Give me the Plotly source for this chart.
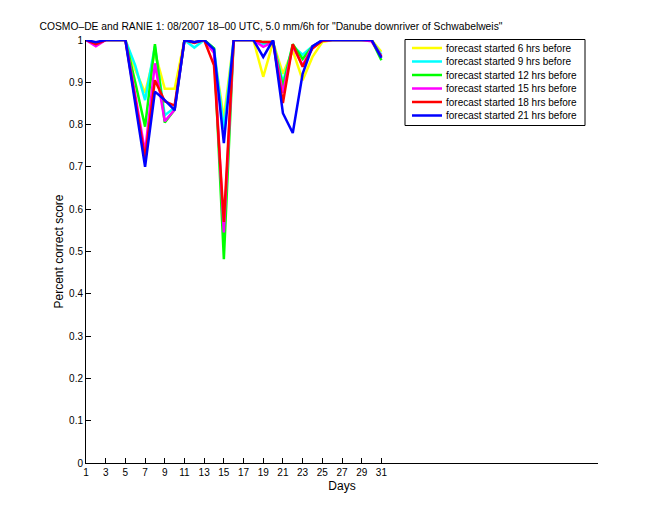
import plotly.graph_objects as go

days = list(range(1, 32))

series_names = [
    "forecast started 6 hrs before",
    "forecast started 9 hrs before",
    "forecast started 12 hrs before",
    "forecast started 15 hrs before",
    "forecast started 18 hrs before",
    "forecast started 21 hrs before",
]
series_colors = ["#FFFF00", "#00FFFF", "#00FF00", "#FF00FF", "#FF0000", "#0000FF"]

yellow_6h = [1, 0.99, 1, 1, 1, 0.93, 0.875, 0.97, 0.885, 0.885, 1, 0.995, 1, 0.97, 0.815, 1,
             1, 1, 0.913, 0.995, 0.92, 0.975, 0.905, 0.96, 0.995, 1, 1, 1, 1, 1, 0.972]
cyan_9h = [1, 0.99, 1, 1, 1, 0.94, 0.858, 0.985, 0.822, 0.84, 1, 0.982, 1, 0.98, 0.79, 1,
           1, 1, 0.99, 0.995, 0.9, 0.985, 0.965, 0.985, 0.998, 1, 1, 1, 1, 1, 0.965]
green_12h = [1, 0.99, 1, 1, 1, 0.9, 0.795, 0.99, 0.805, 0.835, 1, 0.995, 1, 0.98, 0.482, 1,
             1, 1, 0.995, 0.995, 0.89, 0.99, 0.955, 0.985, 0.998, 1, 1, 1, 1, 1, 0.952]
magenta_15h = [1, 0.985, 1, 1, 1, 0.87, 0.735, 0.945, 0.808, 0.835, 1, 0.995, 1, 0.97, 0.545, 1,
               1, 1, 0.984, 0.995, 0.875, 0.985, 0.94, 0.985, 0.998, 1, 1, 1, 1, 0.997, 0.962]
red_18h = [1, 0.99, 1, 1, 1, 0.86, 0.72, 0.905, 0.855, 0.845, 1, 0.993, 1, 0.94, 0.57, 1,
           1, 1, 0.995, 0.995, 0.851, 0.99, 0.937, 0.98, 0.998, 1, 1, 1, 1, 1, 0.96]
blue_21h = [1, 0.995, 1, 1, 1, 0.85, 0.70, 0.878, 0.858, 0.834, 1, 0.995, 1, 0.978, 0.756, 1,
            1, 1, 0.96, 1.0, 0.827, 0.78, 0.92, 0.985, 1, 1, 1, 1, 1, 1, 0.958]

series_values = [yellow_6h, cyan_9h, green_12h, magenta_15h, red_18h, blue_21h]

x_tick_vals = list(range(1, 32, 2))
y_tick_vals = [i / 10 for i in range(11)]

title_text = 'COSMO\u2013DE and RANIE 1: 08/2007 18\u201300 UTC, 5.0 mm/6h for "Danube downriver of Schwabelweis"'

FONT = "Liberation Sans, Arial, Helvetica, sans-serif"

# layout geometry (pixels)
W, H = 660, 520
ML, MR, MT, MB = 86, 62, 40, 57
PW, PH = W - ML - MR, H - MT - MB


def px_x(p):
    return (p - ML) / PW


def px_y(p):
    return (H - MB - p) / PH


fig = go.Figure()
for name, color, vals in zip(series_names, series_colors, series_values):
    fig.add_trace(go.Scatter(x=days, y=vals, mode="lines", name=name,
                             line=dict(color=color, width=2.5), showlegend=False))

# MATLAB-style legend box built from the series names and colours
shapes = [dict(type="rect", xref="paper", yref="paper",
               x0=px_x(405), x1=px_x(585), y0=px_y(39.5), y1=px_y(125.5),
               line=dict(color="black", width=1), fillcolor="white", layer="above")]
annotations = []
for i, (name, color) in enumerate(zip(series_names, series_colors)):
    yy = px_y(48 + 13.5 * i)
    shapes.append(dict(type="line", xref="paper", yref="paper",
                       x0=px_x(412), x1=px_x(442), y0=yy, y1=yy,
                       line=dict(color=color, width=2.5), layer="above"))
    annotations.append(dict(text=name, xref="paper", yref="paper",
                            x=px_x(444), y=yy, xanchor="left", yanchor="middle",
                            showarrow=False,
                            font=dict(family=FONT, size=10, color="black")))

fig.update_layout(
    width=W, height=H,
    margin=dict(l=ML, r=MR, t=MT, b=MB),
    paper_bgcolor="white", plot_bgcolor="white",
    font=dict(family=FONT, color="black", size=10),
    title=dict(text=title_text, x=271 / W, xref="container", xanchor="center",
               y=1 - 26 / H, yref="container", yanchor="middle",
               font=dict(family=FONT, size=10.3, color="black")),
    showlegend=False,
    shapes=shapes,
    annotations=annotations,
    xaxis=dict(range=[1, 53], tickvals=x_tick_vals, ticks="inside", ticklen=5,
               tickcolor="black", showline=True, linecolor="black", linewidth=1,
               showgrid=False, zeroline=False, mirror=False,
               title=dict(text="Days", font=dict(size=12), standoff=4),
               tickfont=dict(size=10)),
    yaxis=dict(range=[0, 1], tickvals=y_tick_vals, ticks="inside", ticklen=5,
               tickcolor="black", showline=True, linecolor="black", linewidth=1,
               showgrid=False, zeroline=False, mirror=False,
               title=dict(text="Percent correct score", font=dict(size=12), standoff=2),
               tickfont=dict(size=10)),
)

fig.write_html("out.html")
